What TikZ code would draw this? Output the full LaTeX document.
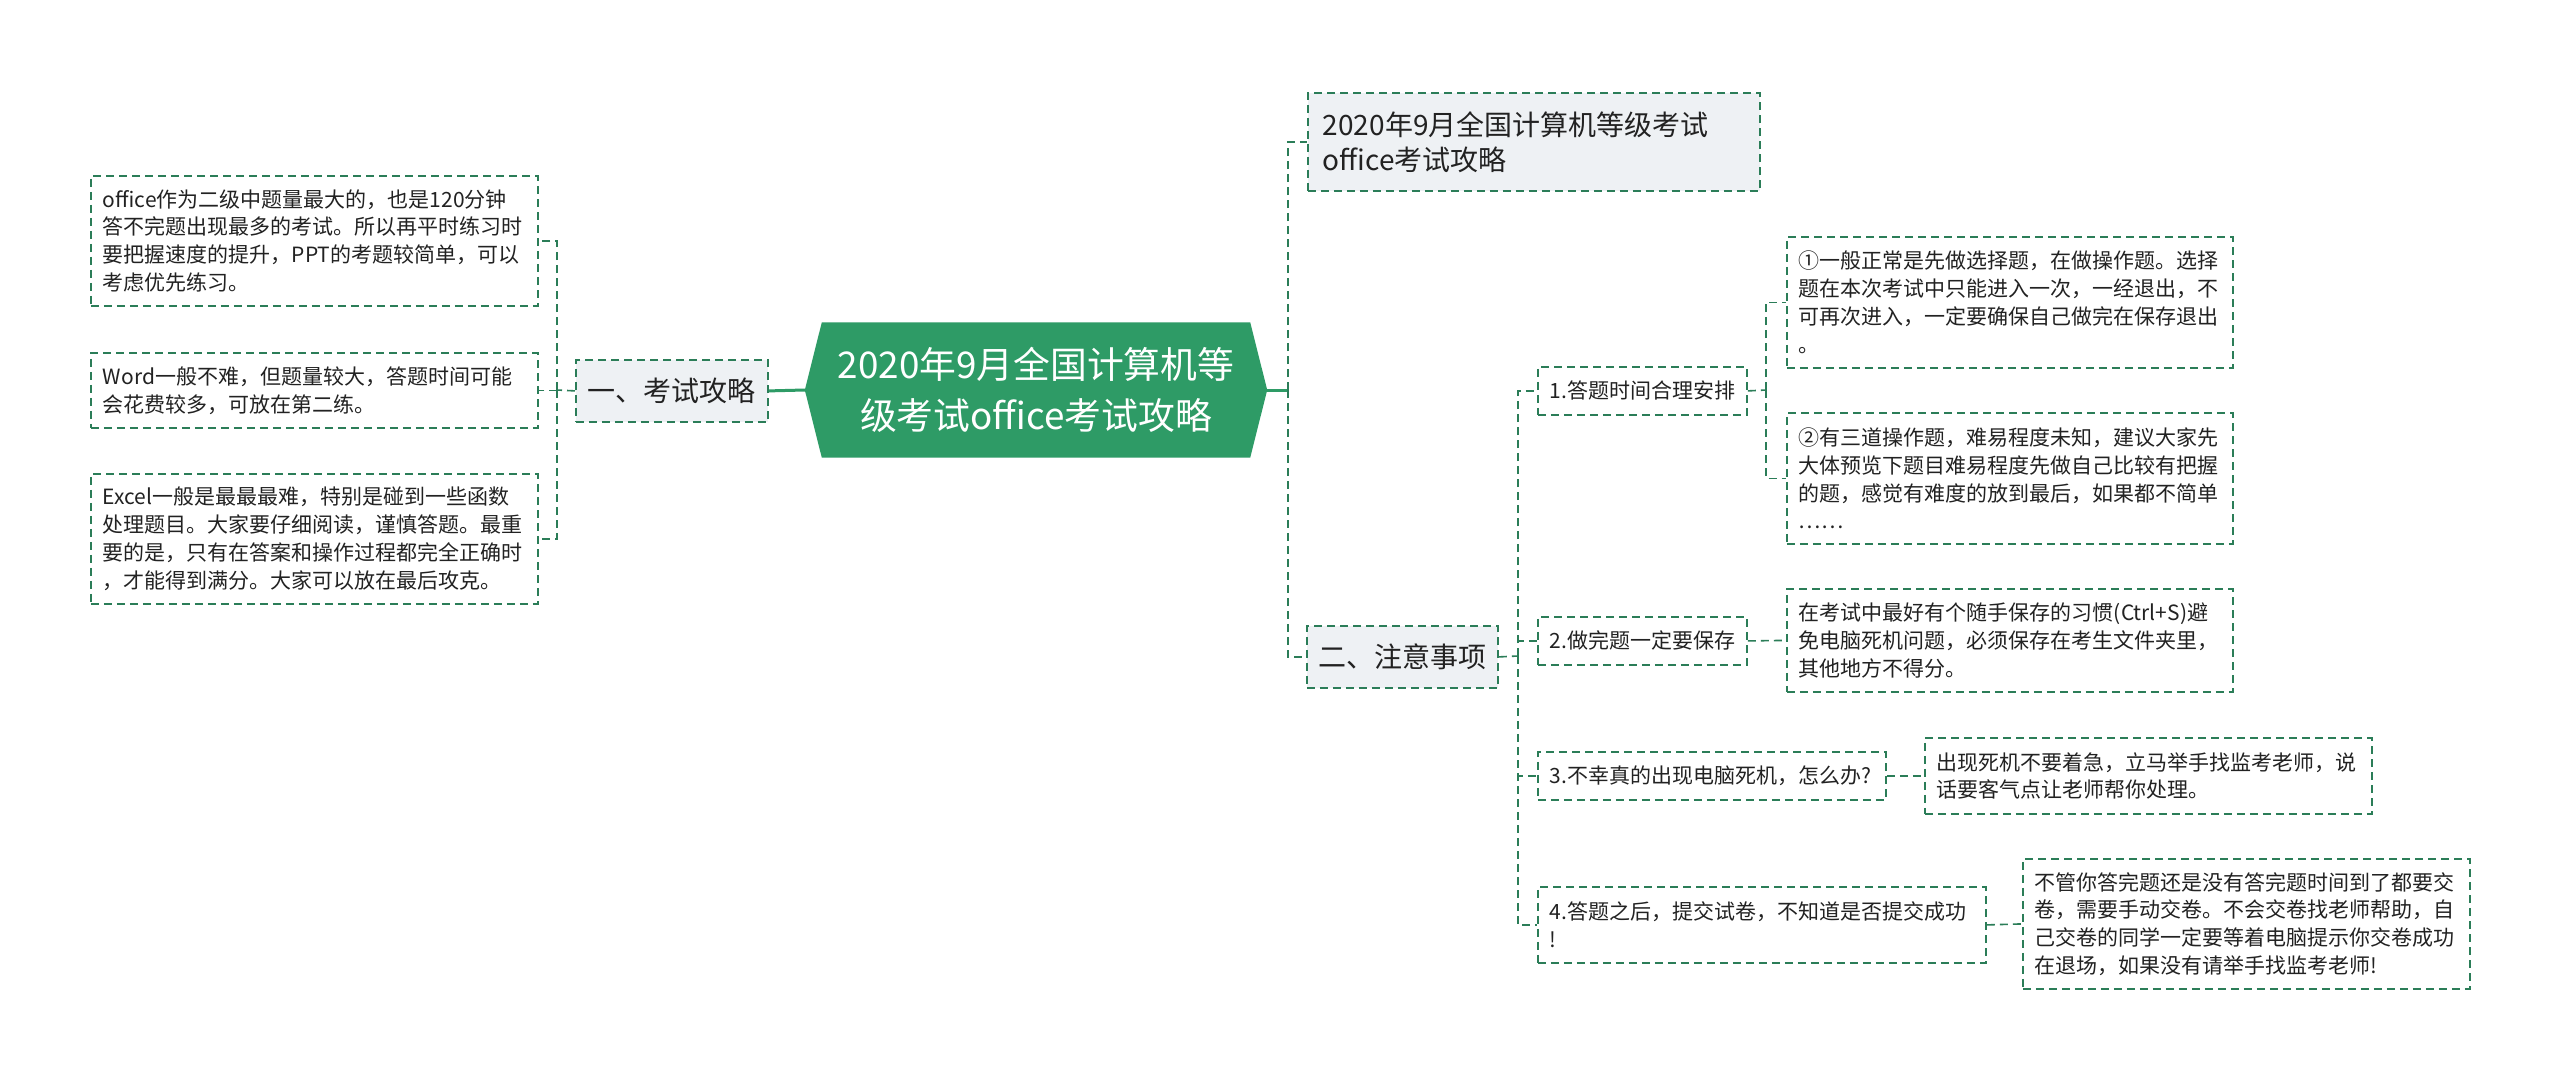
\documentclass[tikz,border=0pt]{standalone}
\usepackage{fontspec}
\setmainfont{Noto Sans CJK SC}
\usepackage{tikz}
\usetikzlibrary{positioning,calc,backgrounds}
\definecolor{mapgreen}{HTML}{2E9B66}
\definecolor{linegreen}{HTML}{2B7D58}
\definecolor{boxgray}{HTML}{EEF1F4}
\definecolor{inkgray}{HTML}{222222}

\begin{document}
\begin{tikzpicture}[
    x=1pt, y=-1pt,
    box/.style={anchor=north west,draw=linegreen,line width=1.8pt,dash pattern=on 8pt off 5pt,fill=white,text=inkgray,align=left,inner xsep=12pt,font={\fontsize{21}{27.8}\selectfont}},
    topic/.style={box,fill=boxgray,inner xsep=15pt,font={\fontsize{28}{35}\selectfont}},
    root/.style={minimum width=462pt,minimum height=135pt,text=white,align=center,font={\fontsize{36.8}{51}\selectfont}},
    link/.style={linegreen,line width=1.6pt,dash pattern=on 8pt off 5pt},
    trunk/.style={mapgreen,line width=3pt}
]
\useasboundingbox (0,0) rectangle (2560,1080);

\node[root] (root) at (1036,390) {2020年9月全国计算机等\\级考试office考试攻略};

\node[topic,align=center,minimum width=192pt,minimum height=62pt,inner xsep=0pt] (l1) at (575,359) {一、考试攻略};
\node[box,text width=423pt,minimum height=130pt] (a1) at (90,175) {office作为二级中题量最大的，也是120分钟\\答不完题出现最多的考试。所以再平时练习时\\要把握速度的提升，PPT的考题较简单，可以\\考虑优先练习。};
\node[box,text width=423pt,minimum height=75pt] (a2) at (90,352) {Word一般不难，但题量较大，答题时间可能\\会花费较多，可放在第二练。};
\node[box,text width=423pt,minimum height=130pt] (a3) at (90,473) {Excel一般是最最最难，特别是碰到一些函数\\处理题目。大家要仔细阅读，谨慎答题。最重\\要的是，只有在答案和操作过程都完全正确时\\，才能得到满分。大家可以放在最后攻克。};

\node[topic,text width=422pt,minimum height=98pt] (t0) at (1307,92) {2020年9月全国计算机等级考试\\office考试攻略};
\node[topic,align=center,minimum width=191pt,minimum height=62pt,inner xsep=0pt] (l2) at (1306,625) {二、注意事项};

\node[box,text width=185pt,minimum height=48pt] (b1) at (1537,366) {1.答题时间合理安排};
\node[box,text width=422pt,minimum height=131pt] (b1a) at (1786,236) {①一般正常是先做选择题，在做操作题。选择\\题在本次考试中只能进入一次，一经退出，不\\可再次进入，一定要确保自己做完在保存退出\\。};
\node[box,text width=422pt,minimum height=131pt] (b1b) at (1786,412) {②有三道操作题，难易程度未知，建议大家先\\大体预览下题目难易程度先做自己比较有把握\\的题，感觉有难度的放到最后，如果都不简单\\……};
\node[box,text width=185pt,minimum height=48pt] (b2) at (1537,616) {2.做完题一定要保存};
\node[box,text width=422pt,minimum height=103pt] (b2a) at (1786,588) {在考试中最好有个随手保存的习惯(Ctrl+S)避\\免电脑死机问题，必须保存在考生文件夹里，\\其他地方不得分。};
\node[box,text width=324pt,minimum height=48pt] (b3) at (1537,751) {3.不幸真的出现电脑死机，怎么办?};
\node[box,text width=423pt,minimum height=76pt] (b3a) at (1924,737) {出现死机不要着急，立马举手找监考老师，说\\话要客气点让老师帮你处理。};
\node[box,text width=424pt,minimum height=76pt] (b4) at (1537,886) {4.答题之后，提交试卷，不知道是否提交成功\\!};
\node[box,text width=423pt,minimum height=130pt] (b4a) at (2022,858) {不管你答完题还是没有答完题时间到了都要交\\卷，需要手动交卷。不会交卷找老师帮助，自\\己交卷的同学一定要等着电脑提示你交卷成功\\在退场，如果没有请举手找监考老师!};

\coordinate (lj) at (557,390);
\coordinate (rj) at (1288,390);
\coordinate (mj) at (1518,656);
\coordinate (bj) at (1766,390);

\begin{pgfonlayer}{background}
\fill[white] (0,0) rectangle (2560,1080);
\fill[mapgreen] ($(root.north west)+(17,0)$) -- ($(root.north east)+(-17,0)$) -- (root.east) -- ($(root.south east)+(-17,0)$) -- ($(root.south west)+(17,0)$) -- (root.west) -- cycle;
\end{pgfonlayer}

\draw[trunk] (root.west) -- (l1.east);
\draw[trunk] (root.east) -- (rj);
\draw[link] (rj) |- (t0.west);
\draw[link] (rj) |- (l2.west);

\draw[link] (l1.west) -- (lj);
\draw[link] (lj) |- (a1.east);
\draw[link] (lj) |- (a2.east);
\draw[link] (lj) |- (a3.east);

\draw[link] (l2.east) -- (mj);
\draw[link] (mj) |- (b1.west);
\draw[link] (mj) |- (b2.west);
\draw[link] (mj) |- (b3.west);
\draw[link] (mj) |- (b4.west);

\draw[link] (b1.east) -- (bj);
\draw[link] (bj) |- (b1a.west);
\draw[link] (bj) |- (b1b.west);
\draw[link] (b2.east) -- (b2a.west);
\draw[link] (b3.east) -- (b3a.west);
\draw[link] (b4.east) -- (b4a.west);
\end{tikzpicture}
\end{document}
